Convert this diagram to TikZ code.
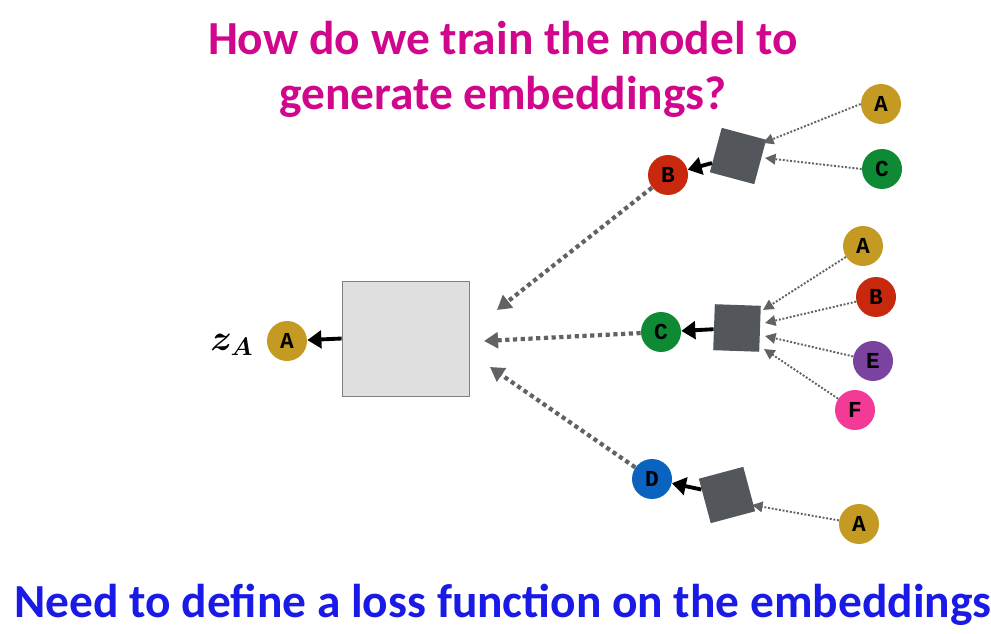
\documentclass[tikz,border=0pt]{standalone}
\usepackage{fontspec}
\setmainfont{Carlito}
\newfontfamily\mono{Liberation Mono}[BoldFont={Liberation Mono Bold}]
\usetikzlibrary{arrows.meta}
\definecolor{ttl}{HTML}{D0078C}
\definecolor{blu}{HTML}{1A1AE6}
\definecolor{gA}{HTML}{C49A22}
\definecolor{rB}{HTML}{C8290E}
\definecolor{gC}{HTML}{0E8A35}
\definecolor{bD}{HTML}{0A64BF}
\definecolor{pE}{HTML}{7B42A0}
\definecolor{pF}{HTML}{F23A96}
\definecolor{sq}{HTML}{53575C}
\definecolor{dg}{HTML}{606266}
\begin{document}
\begin{tikzpicture}[x=0.02cm,y=-0.02cm,
 c/.style={circle,minimum size=0.8cm,inner sep=0,font=\mono\bfseries\fontsize{13}{13}\selectfont},
 s/.style={fill=sq,minimum size=0.92cm,inner sep=0},
 da/.style={dg,densely dotted,line width=1.1pt,-{Triangle[length=6pt,width=6pt]}},
 db/.style={dg,dotted,line width=2.4pt,-{Triangle[length=8pt,width=9pt]}},
 ba/.style={black,line width=2.2pt,-{Triangle[length=8pt,width=10pt]}},
 t/.style={font=\bfseries\fontsize{27}{27}\selectfont}]
\useasboundingbox (0,0) rectangle (991,634);
\node[t,text=ttl] (t1) at (503,38) {How do we train the model to};
\node[t,text=ttl] (t2) at (503,97) {generate embeddings?};
\node[t,text=blu] (t3) at (503,605) {Need to define a loss function on the embeddings};
\node[draw=gray,fill=gray!25,minimum width=2.54cm,minimum height=2.3cm] (box) at (405.5,338.5) {};
\node[c,fill=gA] (a0) at (287,341) {A};
\node[font=\fontsize{20}{20}\selectfont\boldmath] (z) at (232,345) {$z_{A}$};
\node[c,fill=rB] (b1) at (668,175) {B};
\node[c,fill=gC] (c1) at (661,332) {C};
\node[c,fill=bD] (d1) at (652,479) {D};
\node[s,rotate=-15] (s1) at (738,156) {};
\node[s,rotate=-2] (s2) at (737,328) {};
\node[s,rotate=15] (s3) at (727,495) {};
\node[c,fill=gA] (r1) at (881,104) {A};
\node[c,fill=gC] (r2) at (882,169) {C};
\node[c,fill=gA] (r3) at (863,246) {A};
\node[c,fill=rB] (r4) at (876,297) {B};
\node[c,fill=pE] (r5) at (873,361) {E};
\node[c,fill=pF] (r6) at (855,410) {F};
\node[c,fill=gA] (r7) at (859,524) {A};
\draw[ba] (box.west) -- (a0);
\draw[ba] (s1) -- (b1);
\draw[ba] (s2) -- (c1);
\draw[ba] (s3) -- (d1);
\draw[da] (r1.west) -- (763,143);
\draw[da] (r2.west) -- (765,158);
\draw[da] (r3) -- (763,310);
\draw[da] (r4) -- (765,323);
\draw[da] (r5) -- (765,336);
\draw[da] (r6) -- (764,349);
\draw[da] (r7) -- (752,505);
\draw[db] (b1) -- (497,310);
\draw[db] (c1) -- (484,341);
\draw[db] (d1) -- (490,367);
\end{tikzpicture}
\end{document}
